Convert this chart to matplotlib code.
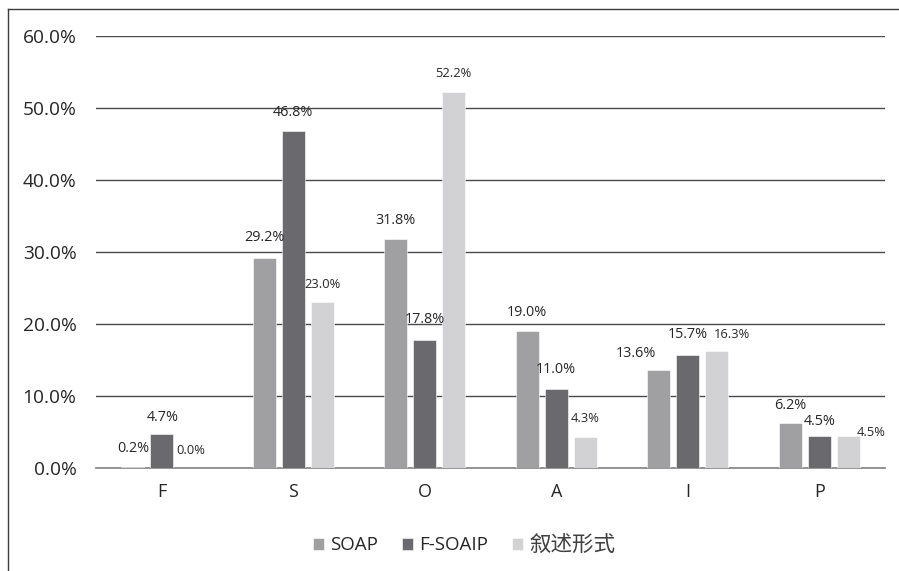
import matplotlib
matplotlib.use("Agg")
import matplotlib.pyplot as plt
from matplotlib.lines import Line2D
import numpy as np

plt.rcParams['font.family'] = ['Open Sans', 'Noto Sans CJK SC', 'DejaVu Sans']

categories = ['F', 'S', 'O', 'A', 'I', 'P']
series_names = ['SOAP', 'F-SOAIP', '叙述形式']
soap = [0.2, 29.2, 31.8, 19.0, 13.6, 6.2]
fsoaip = [4.7, 46.8, 17.8, 11.0, 15.7, 4.5]
narrative = [0.0, 23.0, 52.2, 4.3, 16.3, 4.5]
y_ticks = [0, 10, 20, 30, 40, 50, 60]

colors = ['#a0a0a3', '#6a6a6e', '#d2d2d4']
label_sizes = [10.4, 10.4, 9.3]
# label offsets in pixels (dx, height above bar top)
offsets = [
    [(0, 18), (0, 20), (0, 19), (0, 19), (-23, 17), (0, 18)],
    [(1, 17), (0, 19), (0, 20), (0, 19), (0, 20), (0, 14)],
    [(0, 18), (0, 18), (0, 19), (0, 19), (15, 16), (23, 3)],
]

W, H = 899, 571
fig = plt.figure(figsize=(W / 100, H / 100), dpi=100)
ax = fig.add_axes([96 / W, 1 - 468 / H, (885 - 96) / W, (468 - 36) / H])

x = np.arange(len(categories))
bw = 0.175
step = 0.22
data = [soap, fsoaip, narrative]
px2pt = 0.72
for i, (vals, name, c) in enumerate(zip(data, series_names, colors)):
    xs = x + (i - 1) * step
    ax.bar(xs, vals, width=bw, color=c, label=name, zorder=3,
           edgecolor='white', linewidth=0.4)
    for j, (xx, v) in enumerate(zip(xs, vals)):
        dx, dy = offsets[i][j]
        ax.annotate(f"{v:.1f}%", (xx, v), xytext=(dx * px2pt, dy * px2pt),
                    textcoords='offset points', ha='center', va='center',
                    fontsize=label_sizes[i], color='#262626', zorder=4)

ax.set_xlim(-0.5, len(categories) - 0.5)
ax.set_ylim(0, 60)
ax.set_yticks(y_ticks)
ax.set_yticklabels([f"{t:.1f}%" for t in y_ticks], fontsize=13.8, color='#262626')
ax.set_xticks(x)
ax.set_xticklabels(categories, fontsize=13, color='#262626')
ax.tick_params(axis='both', length=0)
ax.tick_params(axis='y', pad=14)
ax.tick_params(axis='x', pad=11)
ax.yaxis.grid(True, color='#4a4a4a', linewidth=1.0, zorder=0)
ax.set_axisbelow(True)
for s in ['top', 'right', 'left']:
    ax.spines[s].set_visible(False)
ax.spines['bottom'].set_color('#8c8c8c')
ax.spines['bottom'].set_linewidth(1.3)

leg = fig.legend(loc='center', bbox_to_anchor=(464 / W, 1 - 545 / H), ncol=3,
                 frameon=False, fontsize=13.5, handlelength=0.6, handleheight=0.6,
                 handletextpad=0.3, columnspacing=1.3, labelcolor='#262626')
leg.get_texts()[2].set_fontsize(15.5)
leg.get_texts()[2].set_color('#404040')

# outer frame lines (left and top)
fig.add_artist(Line2D([8 / W, 8 / W], [0, 1 - 9 / H], transform=fig.transFigure,
                      color='#3c3c3c', linewidth=1.0))
fig.add_artist(Line2D([8 / W, 1], [1 - 9 / H, 1 - 9 / H], transform=fig.transFigure,
                      color='#3c3c3c', linewidth=1.0))

fig.savefig('out.png', dpi=100)
